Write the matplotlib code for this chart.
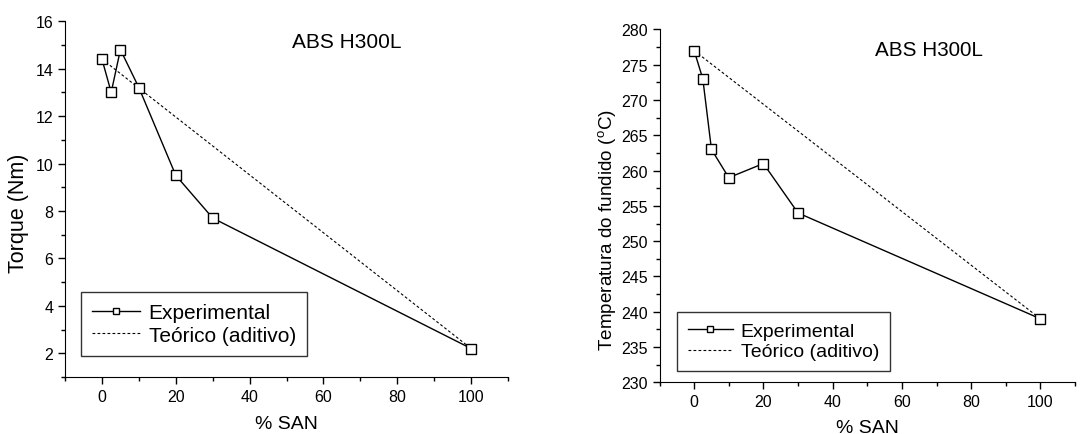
import numpy as np
import matplotlib.pyplot as plt
from matplotlib.ticker import MultipleLocator

plt.rcParams['font.family'] = ['Liberation Sans', 'DejaVu Sans']

# dados
san = [0, 2.5, 5, 10, 20, 30, 100]
torque = [14.4, 13.0, 14.8, 13.2, 9.5, 7.7, 2.2]
temp = [277, 273, 263, 259, 261, 254, 239]
san_teo = [0, 100]
torque_teo = [14.4, 2.2]
temp_teo = [277, 239]


def estilo(ax, ymaj, ymin, xpad):
    ax.spines['top'].set_visible(False)
    ax.spines['right'].set_visible(False)
    ax.set_xlim(-10, 110)
    ax.xaxis.set_major_locator(MultipleLocator(20))
    ax.xaxis.set_minor_locator(MultipleLocator(10))
    ax.yaxis.set_major_locator(MultipleLocator(ymaj))
    ax.yaxis.set_minor_locator(MultipleLocator(ymin))
    ax.tick_params(which='major', direction='out', length=5, width=1, labelsize=11.5)
    ax.tick_params(which='minor', direction='out', length=3, width=1)
    ax.set_xlabel('% SAN', fontsize=14, labelpad=xpad)


def desenha(ax, y, y_teo):
    ax.plot(san, y, color='black', lw=1, marker='s', ms=7, mfc='white',
            mec='black', mew=1, label='Experimental', zorder=3)
    ax.plot(san_teo, y_teo, color='black', lw=0.8, ls=(0, (2.5, 2)),
            label='Teórico (aditivo)', zorder=2)


def legenda(ax, pos, tam):
    leg = ax.legend(loc='lower left', bbox_to_anchor=pos, borderaxespad=0,
                    fontsize=tam, frameon=True, fancybox=False, edgecolor='black',
                    handlelength=2.3, borderpad=0.55, labelspacing=0.15,
                    handletextpad=0.4, markerscale=0.7)
    leg.get_frame().set_linewidth(1)


fig = plt.figure(figsize=(10.86, 4.35), dpi=100)

ax1 = fig.add_axes([0.0599, 0.131, 0.4079, 0.818])
desenha(ax1, torque, torque_teo)
estilo(ax1, 2, 1, 8)
ax1.set_ylim(1, 16)
ax1.set_ylabel('Torque (Nm)', fontsize=15.5, va='center')
ax1.yaxis.set_label_coords(-0.106, 0.463)
ax1.text(66.4, 15.16, 'ABS H300L', ha='center', va='center', fontsize=15)
legenda(ax1, (0.036, 0.059), 15)

ax2 = fig.add_axes([0.6073, 0.1188, 0.3826, 0.8112])
desenha(ax2, temp, temp_teo)
estilo(ax2, 5, 2.5, 7)
ax2.set_ylim(230, 280)
ax2.set_ylabel('Temperatura do fundido ($^{\\mathregular{o}}$C)', fontsize=13.6, va='center')
ax2.yaxis.set_label_coords(-0.124, 0.434)
ax2.text(67.8, 277.1, 'ABS H300L', ha='center', va='center', fontsize=14.9)
legenda(ax2, (0.043, 0.032), 14)

fig.savefig('out.png', dpi=100)
